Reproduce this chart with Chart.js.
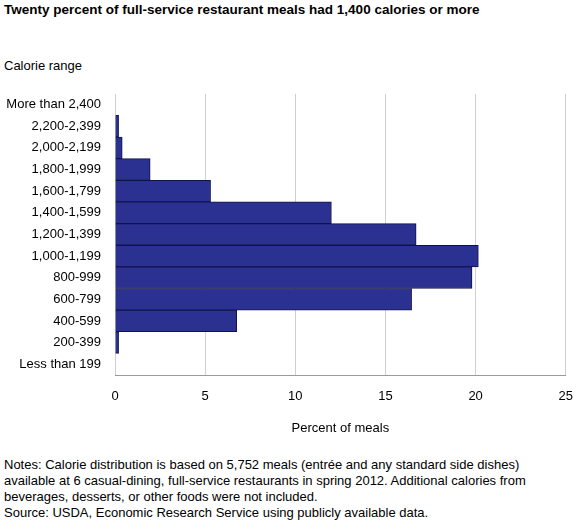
<!DOCTYPE html>
<html><head><meta charset="utf-8">
<script src="https://cdn.jsdelivr.net/npm/chart.js@4"></script>
<style>
body{margin:0;width:587px;height:524px;background:#fff;font-family:"Liberation Sans",Arial,sans-serif;color:#000;position:relative;overflow:hidden}
.t{position:absolute;left:4px;font-size:13px}
#wrap{position:absolute;left:0;top:80px;width:587px;height:360px}
</style></head><body>
<div class="t" style="top:2px;font-weight:bold;font-size:13.5px">Twenty percent of full-service restaurant meals had 1,400 calories or more</div>
<div class="t" style="top:58px">Calorie range</div>
<div class="t" style="top:457px;line-height:16px">Notes: Calorie distribution is based on 5,752 meals (entrée and any standard side dishes)<br>available at 6 casual-dining, full-service restaurants in spring 2012. Additional calories from<br>beverages, desserts, or other foods were not included.<br>Source: USDA, Economic Research Service using publicly available data.</div>
<div id="wrap"><canvas id="c"></canvas></div>
<script>
const categories=["More than 2,400","2,200-2,399","2,000-2,199","1,800-1,999","1,600-1,799","1,400-1,599","1,200-1,399","1,000-1,199","800-999","600-799","400-599","200-399","Less than 199"];
const values=[0,0.2,0.4,1.95,5.3,12.0,16.7,20.15,19.8,16.45,6.75,0.2,0];
const xTicks=[0,5,10,15,20,25];
new Chart(document.getElementById('c'),{type:'bar',
data:{labels:categories,datasets:[{data:values,backgroundColor:'#2b3191',borderColor:'#10124a',borderWidth:1,barPercentage:1,categoryPercentage:1}]},
options:{indexAxis:'y',responsive:true,maintainAspectRatio:false,animation:false,
layout:{padding:{top:9,right:8,left:0,bottom:0}},
plugins:{legend:{display:false},tooltip:{enabled:false}},
scales:{
y:{grid:{display:false},border:{display:false},afterFit:s=>{s.width=115},ticks:{color:'#000',font:{size:13,family:'Liberation Sans'},padding:6}},
x:{min:0,max:25,afterBuildTicks:s=>{s.ticks=xTicks.map(v=>({value:v}))},afterFit:s=>{s.height=65},
grid:{color:'#d0d0d0',drawTicks:false},border:{color:'#999'},
ticks:{color:'#000',font:{size:13,family:'Liberation Sans'},padding:14},
title:{display:true,text:'Percent of meals',color:'#000',font:{size:13,family:'Liberation Sans'},padding:{top:8}}}
}}});
</script></body></html>
